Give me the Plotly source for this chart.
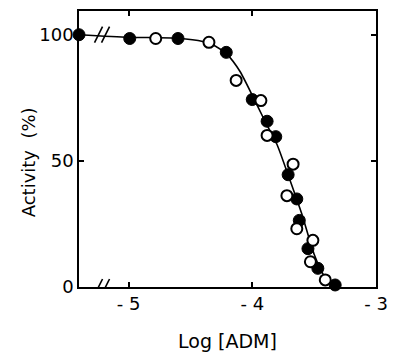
import plotly.graph_objects as go

# Data
control_x = [-5.40]
control_y = [100.0]

filled_x = [-4.99, -4.60, -4.21, -4.00, -3.88, -3.81, -3.71, -3.64, -3.62, -3.55, -3.47, -3.33]
filled_y = [98.5, 98.5, 93.0, 74.3, 65.7, 59.6, 44.5, 34.9, 26.4, 15.2, 7.4, 0.8]

open_x = [-4.78, -4.35, -4.13, -3.93, -3.88, -3.67, -3.72, -3.64, -3.51, -3.53, -3.41]
open_y = [98.5, 97.0, 81.9, 73.9, 60.1, 48.7, 36.2, 23.1, 18.5, 10.0, 2.8]

curve_x = [-5.40, -5.0, -4.6, -4.4, -4.3, -4.2, -4.1, -4.0, -3.9, -3.8, -3.7, -3.6, -3.5, -3.42, -3.35]
curve_y = [100.0, 99.0, 98.6, 97.3, 95.5, 92.0, 85.5, 76.0, 66.0, 56.5, 43.0, 29.0, 13.0, 4.5, 0.8]

x_ticks = [-5, -4, -3]
x_ticktext = ["- 5", "- 4", "- 3"]
y_ticks = [0, 50, 100]
y_ticktext = ["0", "50", "100"]

break_x = -5.21
break_levels = [100, 0]

FONT = "DejaVu Sans"

fig = go.Figure()

fig.add_trace(go.Scatter(x=curve_x, y=curve_y, mode="lines",
                         line=dict(color="black", width=1.6, shape="spline", smoothing=0.6),
                         hoverinfo="skip", cliponaxis=False))
fig.add_trace(go.Scatter(x=control_x + filled_x, y=control_y + filled_y, mode="markers",
                         marker=dict(symbol="circle", size=12, color="black",
                                     line=dict(color="black", width=1)),
                         cliponaxis=False))
fig.add_trace(go.Scatter(x=open_x, y=open_y, mode="markers",
                         marker=dict(symbol="circle", size=11, color="white",
                                     line=dict(color="black", width=2)),
                         cliponaxis=False))

shapes = []
for lvl in break_levels:
    for dx in (-4, 3):
        shapes.append(dict(type="line", xref="x", yref="y",
                           xsizemode="pixel", ysizemode="pixel",
                           xanchor=break_x, yanchor=lvl,
                           x0=dx - 4, x1=dx + 4, y0=-8, y1=8,
                           line=dict(color="black", width=1.6)))

fig.update_layout(
    width=397, height=355,
    margin=dict(l=79, r=14, t=9, b=68),
    paper_bgcolor="white", plot_bgcolor="white",
    showlegend=False,
    shapes=shapes,
    font=dict(family=FONT, color="black"),
    annotations=[
        dict(text="Log [ADM]", xref="paper", yref="paper", x=0.5, y=-0.195,
             xanchor="center", yanchor="middle", showarrow=False,
             font=dict(family=FONT, size=19, color="black")),
        dict(text="Activity  (%)", xref="paper", yref="paper", x=-0.17, y=0.45,
             xanchor="center", yanchor="middle", showarrow=False, textangle=-90,
             font=dict(family=FONT, size=18, color="black")),
    ],
)

fig.update_xaxes(range=[-5.40, -3.0], tickvals=x_ticks, ticktext=x_ticktext,
                 ticks="inside", ticklen=5, tickwidth=1.5, tickcolor="black",
                 showline=True, linecolor="black", linewidth=1.6, mirror="ticks",
                 showgrid=False, zeroline=False,
                 tickfont=dict(family=FONT, size=18, color="black"))
fig.update_yaxes(range=[0, 109.4], tickvals=y_ticks, ticktext=y_ticktext,
                 ticks="inside", ticklen=5, tickwidth=1.5, tickcolor="black",
                 showline=True, linecolor="black", linewidth=1.6, mirror="ticks",
                 showgrid=False, zeroline=False,
                 tickfont=dict(family=FONT, size=18, color="black"))

fig.write_html("out.html")
